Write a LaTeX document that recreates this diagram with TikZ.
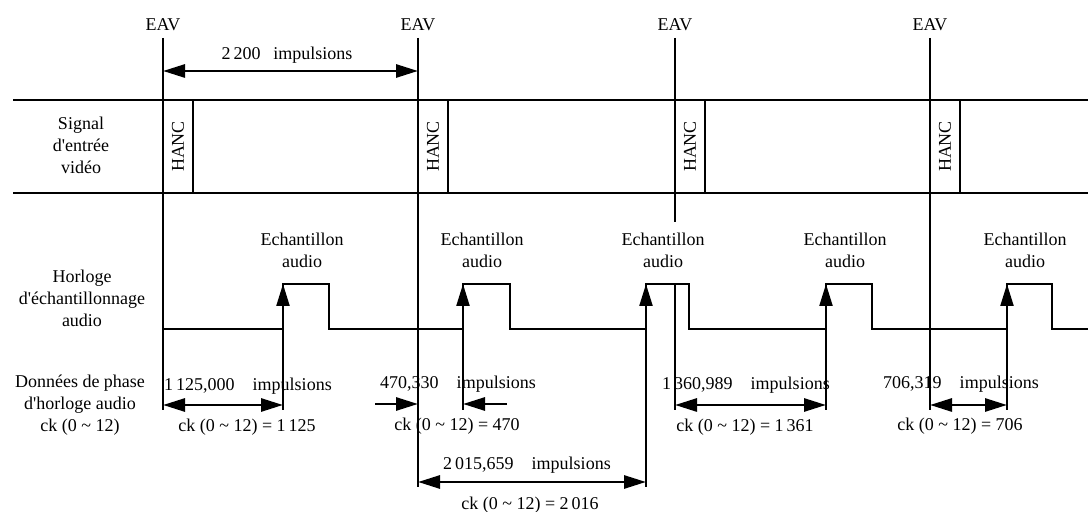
\documentclass[tikz,border=0pt]{standalone}
\usepackage{amsmath,amssymb}
\usepackage{fontspec}
\setmainfont{Liberation Serif}
\usepackage{tikz}
\usetikzlibrary{arrows.meta}
\usetikzlibrary{calc}

\tikzset{
  txt/.style={font=\fontsize{9}{11}\selectfont, align=center, inner sep=0pt},
  eavline/.style={line width=0.9pt},
  band/.style={line width=1.2pt},
  hanc/.style={draw, line width=0.9pt, rotate=90, minimum width=46.5pt, minimum height=15pt,
    inner sep=0pt, font=\fontsize{9}{11}\selectfont},
  wave/.style={line width=1pt},
  sample/.style={line width=1.1pt, -{Triangle[length=11pt,width=6.5pt]}},
  span/.style={line width=1.4pt, {Triangle[length=11pt,width=6.5pt]}-{Triangle[length=11pt,width=6.5pt]}},
  half/.style={line width=1.4pt, -{Triangle[length=11pt,width=6.5pt]}}
}

\begin{document}
\begin{tikzpicture}[x=0.5pt, y=-0.5pt]
        \useasboundingbox (0,0) rectangle (1088,512);

        % EAV markers
        \node[txt] (eavA) at (163,25) {EAV};
        \node[txt] (eavB) at (418,25) {EAV};
        \node[txt] (eavC) at (675,25) {EAV};
        \node[txt] (eavD) at (930,25) {EAV};

        \coordinate (A1) at (163,38);
        \coordinate (A2) at (163,410);
        \coordinate (B1) at (418,38);
        \coordinate (B2) at (418,487);
        \coordinate (C1) at (675,38);
        \coordinate (C2) at (675,222);
        \coordinate (C3) at (675,284);
        \coordinate (C4) at (675,410);
        \coordinate (D1) at (930,38);
        \coordinate (D2) at (930,410);
        \draw[eavline] (A1) -- (A2);
        \draw[eavline] (B1) -- (B2);
        \draw[eavline] (C1) -- (C2);
        \draw[eavline] (C3) -- (C4);
        \draw[eavline] (D1) -- (D2);

        \coordinate (L1) at (163,71);
        \coordinate (L2) at (418,71);
        \draw[span] (L1) -- (L2);
        \node[txt] (line) at (287,55) {2\,200\hspace{0.7em}impulsions};

        % video input signal
        \coordinate (V1) at (13,100);
        \coordinate (V2) at (1088,100);
        \coordinate (V3) at (13,193);
        \coordinate (V4) at (1088,193);
        \draw[band] (V1) -- (V2);
        \draw[band] (V3) -- (V4);
        \node[txt] (video) at (81,145) {Signal\\d\textquotesingle entrée\\vidéo};

        \node[hanc] (hancA) at (178,146.5) {HANC};
        \node[hanc] (hancB) at (433,146.5) {HANC};
        \node[hanc] (hancC) at (690,146.5) {HANC};
        \node[hanc] (hancD) at (945,146.5) {HANC};

        % audio sampling clock
        \node[txt] (clock) at (82,298) {Horloge\\d\textquotesingle échantillonnage\\audio};
        \draw[wave] (163,329) -- (283,329) -- (283,284) -- (329,284) -- (329,329)
              -- (463,329) -- (463,284) -- (510,284) -- (510,329)
              -- (646,329) -- (646,284) -- (689,284) -- (689,329)
              -- (826,329) -- (826,284) -- (872,284) -- (872,329)
              -- (1007,329) -- (1007,284) -- (1052,284) -- (1052,329) -- (1088,329);

        \node[txt] (smpA) at (302,250) {Echantillon\\audio};
        \node[txt] (smpB) at (482,250) {Echantillon\\audio};
        \node[txt] (smpC) at (663,250) {Echantillon\\audio};
        \node[txt] (smpD) at (845,250) {Echantillon\\audio};
        \node[txt] (smpE) at (1025,250) {Echantillon\\audio};

        \coordinate (E1) at (283,410);
        \coordinate (F1) at (283,284);
        \coordinate (E2) at (463,410);
        \coordinate (F2) at (463,284);
        \coordinate (E3) at (646,487);
        \coordinate (F3) at (646,284);
        \coordinate (E4) at (826,410);
        \coordinate (F4) at (826,284);
        \coordinate (E5) at (1007,410);
        \coordinate (F5) at (1007,284);
        \draw[sample] (E1) -- (F1);
        \draw[sample] (E2) -- (F2);
        \draw[sample] (E3) -- (F3);
        \draw[sample] (E4) -- (F4);
        \draw[sample] (E5) -- (F5);

        % audio clock phase data
        \node[txt] (phase) at (80,405) {Données de phase\\d\textquotesingle horloge audio\\ck (0 \textasciitilde\ 12)};

        \coordinate (G1) at (163,405);
        \coordinate (H1) at (283,405);
        \draw[span] (G1) -- (H1);
        \node[txt] (impA) at (248,386) {1\,125,000\hspace{1em}impulsions};
        \node[txt] (ckA) at (247,427) {ck (0 \textasciitilde\ 12) = 1\,125};

        \coordinate (G2) at (375,404);
        \coordinate (H2) at (418,404);
        \coordinate (G2b) at (507,404);
        \coordinate (H2b) at (463,404);
        \draw[half] (G2) -- (H2);
        \draw[half] (G2b) -- (H2b);
        \node[txt] (impB) at (458,384) {470,330\hspace{1em}impulsions};
        \node[txt] (ckB) at (457,426) {ck (0 \textasciitilde\ 12) = 470};

        \coordinate (G3) at (418,482);
        \coordinate (H3) at (646,482);
        \draw[span] (G3) -- (H3);
        \node[txt] (impC) at (527,465) {2\,015,659\hspace{1em}impulsions};
        \node[txt] (ckC) at (530,505) {ck (0 \textasciitilde\ 12) = 2\,016};

        \coordinate (G4) at (675,405);
        \coordinate (H4) at (826,405);
        \draw[span] (G4) -- (H4);
        \node[txt] (impD) at (746,385) {1\,360,989\hspace{1em}impulsions};
        \node[txt] (ckD) at (745,427) {ck (0 \textasciitilde\ 12) = 1\,361};

        \coordinate (G5) at (930,405);
        \coordinate (H5) at (1007,405);
        \draw[span] (G5) -- (H5);
        \node[txt] (impE) at (961,384) {706,319\hspace{1em}impulsions};
        \node[txt] (ckE) at (960,426) {ck (0 \textasciitilde\ 12) = 706};

    \end{tikzpicture}
\end{document}
